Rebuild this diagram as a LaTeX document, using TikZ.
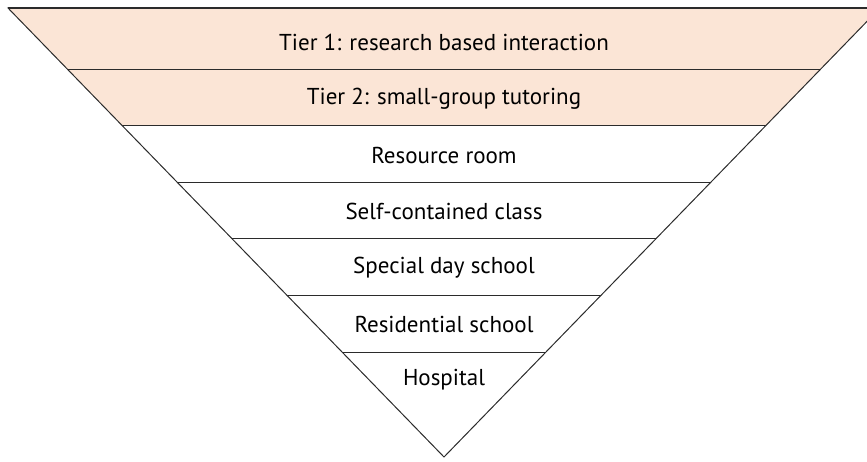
\documentclass[tikz,border=0pt]{standalone}
\usepackage{fontspec}
\setmainfont{PT Sans}
\usetikzlibrary{positioning, calc}
\definecolor{tierfill}{HTML}{FBE5D6}
\definecolor{edgegray}{HTML}{2B2B2B}

\begin{document}
\begin{tikzpicture}[x=1pt, y=-1pt,
    level/.style={font=\fontsize{23}{26}\selectfont, text=black},
    edge/.style={draw=edgegray, line width=1pt}]
    \useasboundingbox (0,0) rectangle (867,461);
    \clip (0,0) rectangle (867,461);

    % outer triangle corners (right one falls outside the page)
    \coordinate (tl) at (8,8);
    \coordinate (tr) at (880,8);
    \coordinate (apex) at (444,457);

    % shaded tiers and the dividing lines, cut to the triangle
    \begin{scope}
        \clip (tl) -- (tr) -- (apex) -- cycle;
        \fill[tierfill] (0,8) rectangle (900,125);
        \foreach \y in {69,125,182,238,295,352}
            \draw[edge] (0,\y) -- (900,\y);
    \end{scope}
    \draw[edge, line join=miter] (tl) -- (tr) -- (apex) -- cycle;
    \draw[edge, line width=1.6pt] (tl) -- (tr);

    \node[level] (tier1)       at (444,42)  {Tier 1: research based interaction};
    \node[level] (tier2)       at (444,99)  {Tier 2: small-group tutoring};
    \node[level] (resource)    at (444,155) {Resource room};
    \node[level] (selfclass)   at (444,211) {Self-contained class};
    \node[level] (dayschool)   at (444,268) {Special day school};
    \node[level] (residential) at (444,324) {Residential school};
    \node[level] (hospital)    at (444,380) {Hospital};
\end{tikzpicture}
\end{document}
